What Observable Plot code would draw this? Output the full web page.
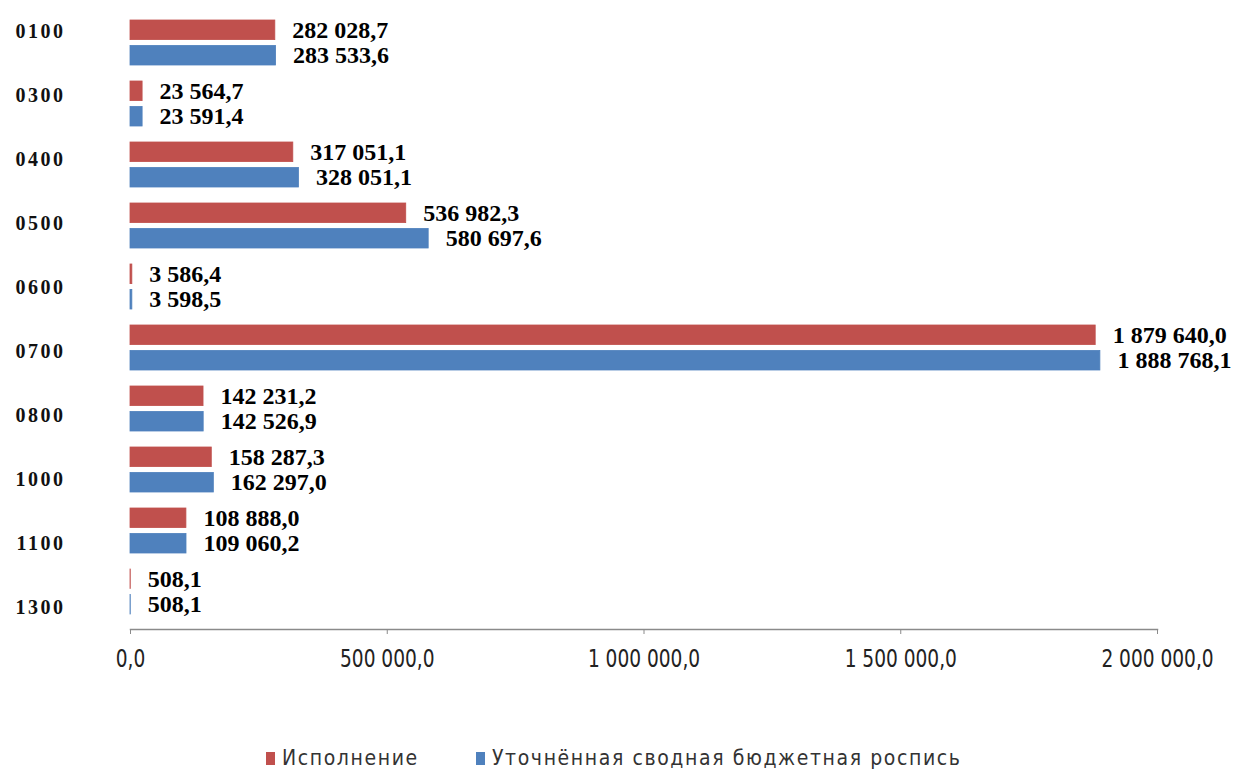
<!DOCTYPE html>
<html>
<head>
<meta charset="utf-8">
<script src="https://cdn.jsdelivr.net/npm/d3@7"></script>
<script src="https://cdn.jsdelivr.net/npm/@observablehq/plot@0.6"></script>
<style>
  body { margin: 0; background: #fff; }
  #wrap { position: relative; width: 1236px; }
  #labels { position: absolute; left: 0; top: 0; pointer-events: none; }
  #legend { position: relative; height: 33px; width: 1236px;
    font-family: "Liberation Sans Narrow", "DejaVu Sans Condensed", "Liberation Sans", sans-serif;
    font-size: 21px; letter-spacing: 1.6px; color: #333; }
  .item { position: absolute; top: 11px; display: flex; align-items: center; line-height: 22px; }
  .sw { width: 9px; height: 13px; margin-right: 7px; }
</style>
</head>
<body>
<div id="wrap"></div>
<div id="legend"></div>
<script>
const categories = ["0100", "0300", "0400", "0500", "0600", "0700", "0800", "1000", "1100", "1300"];
const ispolnenie = [282028.7, 23564.7, 317051.1, 536982.3, 3586.4, 1879640.0, 142231.2, 158287.3, 108888.0, 508.1];
const utochnennaya = [283533.6, 23591.4, 328051.1, 580697.6, 3598.5, 1888768.1, 142526.9, 162297.0, 109060.2, 508.1];
const seriesNames = ["Исполнение", "Уточнённая сводная бюджетная роспись"];
const xTicks = [0, 500000, 1000000, 1500000, 2000000];
const colors = ["#C0504D", "#4F81BD"];

const locale = d3.formatLocale({decimal: ",", thousands: " ", grouping: [3], currency: ["", ""]});
const fmt = locale.format(",.1f");

const redRows = categories.map((c, i) => ({cat: c, value: ispolnenie[i]}));
const blueRows = categories.map((c, i) => ({cat: c, value: utochnennaya[i]}));

const W = 1236, H = 736;
const band = 45.8, barH = 20.4, off = (band - barH);
const labelFont = "Liberation Serif, Times New Roman, serif";
const tickFont = "'Liberation Sans Narrow', 'DejaVu Sans Condensed', 'Liberation Sans', sans-serif";

const main = Plot.plot({
  width: W,
  height: H,
  marginLeft: 130,
  marginRight: 79,
  marginTop: 6,
  marginBottom: H - 629,
  x: {domain: [0, 2000000]},
  y: {type: "band", domain: categories, paddingInner: 0.26, paddingOuter: 0.16, axis: null},
  marks: [
    Plot.barX(redRows, {x: "value", y: "cat", fill: colors[0], stroke: colors[0], strokeWidth: 0.8, insetBottom: off}),
    Plot.barX(blueRows, {x: "value", y: "cat", fill: colors[1], stroke: colors[1], strokeWidth: 0.8, insetTop: off}),
    Plot.text(redRows, {x: "value", y: "cat", text: d => fmt(d.value), dx: 17, dy: -off / 2,
      textAnchor: "start", fontWeight: "bold", fontFamily: labelFont, fontSize: 24, fill: "#000"}),
    Plot.text(blueRows, {x: "value", y: "cat", text: d => fmt(d.value), dx: 17, dy: off / 2,
      textAnchor: "start", fontWeight: "bold", fontFamily: labelFont, fontSize: 24, fill: "#000"}),
    Plot.frame({anchor: "bottom", stroke: "#8a8a8a", strokeWidth: 1.5}),
    Plot.axisX({ticks: xTicks, tickFormat: fmt, tickSize: 5, tickPadding: 15, stroke: "#8a8a8a",
      fontSize: 24, fontFamily: tickFont, fill: "#222", label: null})
  ]
});

const labels = Plot.plot({
  width: W,
  height: H,
  marginLeft: 65,
  x: {axis: null, domain: [0, 1]},
  y: {type: "point", domain: categories, range: [29, 608], padding: 0},
  marks: [
    Plot.axisY({tickSize: 0, tickPadding: 0, fontSize: 20, fontWeight: "bold",
      fontFamily: labelFont, fill: "#111", label: null})
  ]
});
labels.id = "labels";

const wrap = document.getElementById("wrap");
wrap.appendChild(main);
wrap.appendChild(labels);
labels.querySelectorAll("text").forEach(t => {
  t.setAttribute("letter-spacing", "2.5");
  t.setAttribute("font-size", "20");
});
// condense x tick labels horizontally like the reference
const tickStrings = xTicks.map(fmt);
Array.from(main.querySelectorAll("text"))
  .filter(t => tickStrings.includes(t.textContent))
  .forEach(t => {
    const len = t.getComputedTextLength();
    t.setAttribute("textLength", (len * 0.86).toFixed(1));
    t.setAttribute("lengthAdjust", "spacingAndGlyphs");
  });

const legend = d3.select("#legend");
const lefts = [266, 476];
seriesNames.forEach((name, i) => {
  const it = legend.append("div").attr("class", "item").style("left", lefts[i] + "px");
  it.append("div").attr("class", "sw").style("background", colors[i]);
  it.append("span").text(name);
});
</script>
</body>
</html>
